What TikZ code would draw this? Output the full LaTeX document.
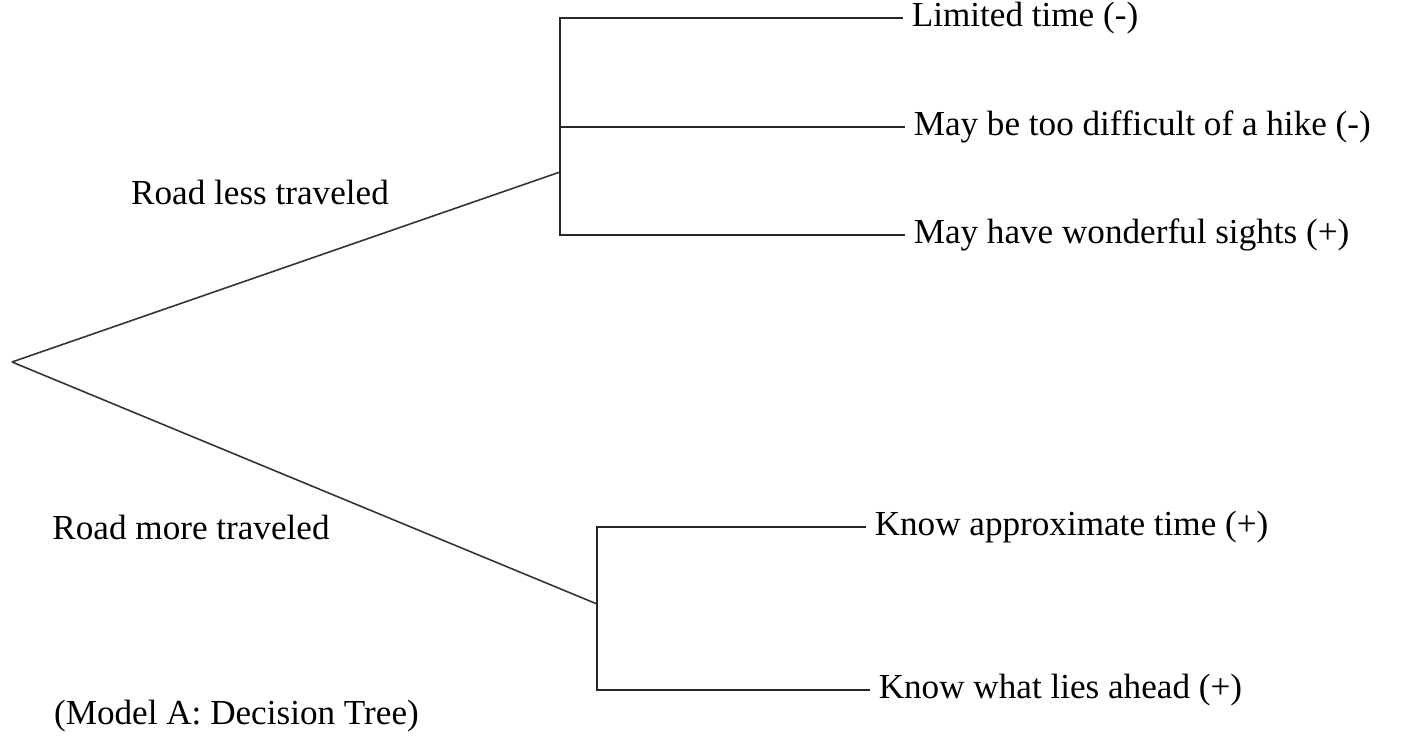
\documentclass[tikz,border=0pt]{standalone}
\usepackage{fontspec}
\setmainfont{Liberation Serif}
\usetikzlibrary{positioning}

\begin{document}
\begin{tikzpicture}[
    x=0.02cm, y=-0.02cm,
    font=\fontsize{20}{24}\selectfont,
    leaf/.style={anchor=west, inner xsep=2pt, outer xsep=3pt},
    tag/.style={inner sep=1pt},
    edge/.style={line width=1.1pt, draw=black!85},
    road/.style={line width=0.9pt, draw=black!80},
]
\useasboundingbox (0,0) rectangle (1403,736);

% === Forks ===
\coordinate (root) at (12,362);
\coordinate (less) at (560,172);
\coordinate (more) at (597,604);

% === Leaves: road less traveled ===
\node[leaf] (limited) at (903,18)  {Limited time (-)};
\node[leaf] (hike)    at (905,127) {May be too difficult of a hike (-)};
\node[leaf] (sights)  at (905,235) {May have wonderful sights (+)};

% === Leaves: road more traveled ===
\node[leaf] (approx)  at (866,527) {Know approximate time (+)};
\node[leaf] (ahead)   at (870,690) {Know what lies ahead (+)};

% === Branch labels ===
\node[tag] (lesslbl) at (260,192) {Road less traveled};
\node[tag] (morelbl) at (191,527) {Road more traveled};
\node[tag, anchor=west] (caption) at (52,716) {(Model A: Decision Tree)};

% === Roads ===
\draw[road] (root) -- (less);
\draw[road] (root) -- (more);

% === Upper fork ===
\draw[edge] (less) |- (limited.west);
\draw[edge] (less |- hike.west) -- (hike.west);
\draw[edge] (less) |- (sights.west);

% === Lower fork ===
\draw[edge] (more) |- (approx.west);
\draw[edge] (more) |- (ahead.west);

\end{tikzpicture}
\end{document}
